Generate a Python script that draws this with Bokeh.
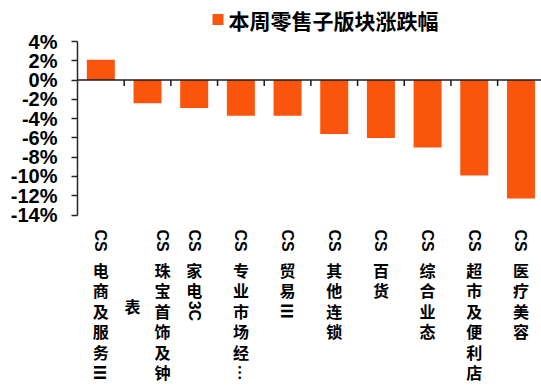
import math
from bokeh.plotting import figure
from bokeh.models import Range1d, FixedTicker, PrintfTickFormatter, Span
from bokeh.core.properties import value
from bokeh.embed import file_html
from bokeh.resources import INLINE

# ---------------- data ----------------
category_names = ["CS电商及服务Ⅲ", "CS珠宝首饰及钟表", "CS家电3C", "CS专业市场经营Ⅲ", "CS贸易Ⅲ",
                  "CS其他连锁", "CS百货", "CS综合业态", "CS超市及便利店", "CS医疗美容"]
# how each label appears (wrapped / truncated) under the axis
category_lines = [["CS电商及服务Ⅲ"], ["CS珠宝首饰及钟", "表"], ["CS家电3C"], ["CS专业市场经…"],
                  ["CS贸易Ⅲ"], ["CS其他连锁"], ["CS百货"], ["CS综合业态"], ["CS超市及便利店"],
                  ["CS医疗美容"]]
values = [2.1, -2.4, -2.9, -3.7, -3.7, -5.6, -6.0, -7.0, -9.9, -12.3]
y_ticks = [-14, -12, -10, -8, -6, -4, -2, 0, 2, 4]
series_name = "本周零售子版块涨跌幅"

# ---------------- layout constants ----------------
W, H = 541, 387
FL = 77                   # frame left in px
AX_TOP, AX_BOT = 41, 214.5  # pixel rows of 4% and -14%
X_END = 9.94
Y_MIN, Y_MAX = -14, 4
PX_X = (W - FL) / X_END
PX_Y = (AX_BOT - AX_TOP) / (Y_MAX - Y_MIN)
BAR_COLOR = "#FA550C"
CJK = "Noto Sans CJK SC"
LAT = "Liberation Sans"

def dx(px):  # pixel x -> data x
    return (px - FL) / PX_X

def dy(py):  # pixel y -> data y
    return Y_MAX - (py - AX_TOP) / PX_Y

p = figure(width=W, height=H, x_range=Range1d(0, X_END), y_range=Range1d(dy(H), dy(0)),
           output_backend="svg", toolbar_location=None,
           min_border_left=FL, min_border_top=0, min_border_right=0, min_border_bottom=0)
p.outline_line_color = None
p.xgrid.visible = False
p.ygrid.visible = False
p.xaxis.visible = False
p.background_fill_color = "white"
p.border_fill_color = "white"

n = len(values)
xs = [i + 0.5 for i in range(n)]
bars = p.vbar(x=xs, top=values, bottom=0, width=0.6, fill_color=BAR_COLOR, line_color=None)

# y axis (limited to the data span)
ya = p.yaxis[0]
ya.bounds = (Y_MIN, Y_MAX)
ya.ticker = FixedTicker(ticks=y_ticks)
ya.formatter = PrintfTickFormatter(format="%d%%")
ya.major_label_text_font = LAT
ya.major_label_text_font_style = "bold"
ya.major_label_text_font_size = "20px"
ya.major_label_text_color = "black"
ya.axis_line_color = "#262626"
ya.axis_line_width = 1.5
ya.major_tick_line_color = "#262626"
ya.major_tick_line_width = 1.5
ya.major_tick_out = 6
ya.major_tick_in = 0
ya.minor_tick_line_color = None
ya.major_label_standoff = 14

# zero line and category ticks
p.add_layout(Span(location=0, dimension="width", line_color="#1a1a1a", line_width=1.5))
bounds = list(range(1, n + 1))
p.segment(x0=bounds, y0=[0] * len(bounds), x1=bounds, y1=[-6 / PX_Y] * len(bounds),
          line_color="#1a1a1a", line_width=1.5)

# ---------------- vertical category labels ----------------
LAT_W = {"C": 0.722, "S": 0.667, "3": 0.556}
LAT_SIZE = 16
CJK_SIZE = 16
PITCH = 20.5
ROT_CJK = {"Ⅲ", "…"}

def tokens(s):
    out, buf = [], ""
    for ch in s:
        if ord(ch) < 128:
            buf += ch
        else:
            if buf:
                out.append(("lat", buf)); buf = ""
            out.append(("rot" if ch in ROT_CJK else "cjk", ch))
    if buf:
        out.append(("lat", buf))
    return out

def layout_line(s, start):
    items, cur = [], start
    for kind, t in tokens(s):
        if kind == "lat":
            L = sum(LAT_W.get(c, 0.6) for c in t) * LAT_SIZE
            items.append((kind, t, cur + L / 2))
            cur += L + 8
        else:
            items.append((kind, t, cur + PITCH / 2))
            cur += PITCH
    return items, cur

TOP = 229
COL_GAP = 30
groups = {"lat": dict(x=[], y=[], t=[]), "rot": dict(x=[], y=[], t=[]), "cjk": dict(x=[], y=[], t=[])}
for i, lines in enumerate(category_lines):
    nl = len(lines)
    first_items, first_end = layout_line(lines[0], TOP)
    mid = (TOP + first_end) / 2
    for j, line in enumerate(lines):
        if j == 0:
            items = first_items
        else:
            _, e = layout_line(line, 0)
            items, _ = layout_line(line, mid - e / 2)
        xoff = ((nl - 1) / 2 - j) * COL_GAP
        xd = xs[i] + xoff / PX_X
        for kind, t, cy in items:
            groups[kind]["x"].append(xd)
            groups[kind]["y"].append(dy(cy))
            groups[kind]["t"].append(t)

g = groups["lat"]
p.text(x=g["x"], y=g["y"], text=g["t"], angle=-math.pi / 2, text_font=value(LAT),
       text_font_style="bold", text_font_size=f"{LAT_SIZE}px", text_align="center",
       text_baseline="middle", text_color="black")
g = groups["rot"]
p.text(x=g["x"], y=g["y"], text=g["t"], angle=-math.pi / 2, text_font=value(CJK),
       text_font_style="bold", text_font_size=f"{CJK_SIZE}px", text_align="center",
       text_baseline="middle", text_color="black")
g = groups["cjk"]
p.text(x=g["x"], y=g["y"], text=g["t"], text_font=value(CJK),
       text_font_style="bold", text_font_size=f"{CJK_SIZE}px", text_align="center",
       text_baseline="middle", text_color="black")

# ---------------- legend ----------------
p.scatter(x=[dx(217.5)], y=[dy(19)], marker="square", size=11,
          fill_color=BAR_COLOR, line_color=None)
p.text(x=[dx(228)], y=[dy(19)], text=[series_name], text_font=value(CJK),
       text_font_style="bold", text_font_size="21px", text_align="left",
       text_baseline="middle", text_color="black")

open("out.html", "w").write(file_html(p, INLINE))
